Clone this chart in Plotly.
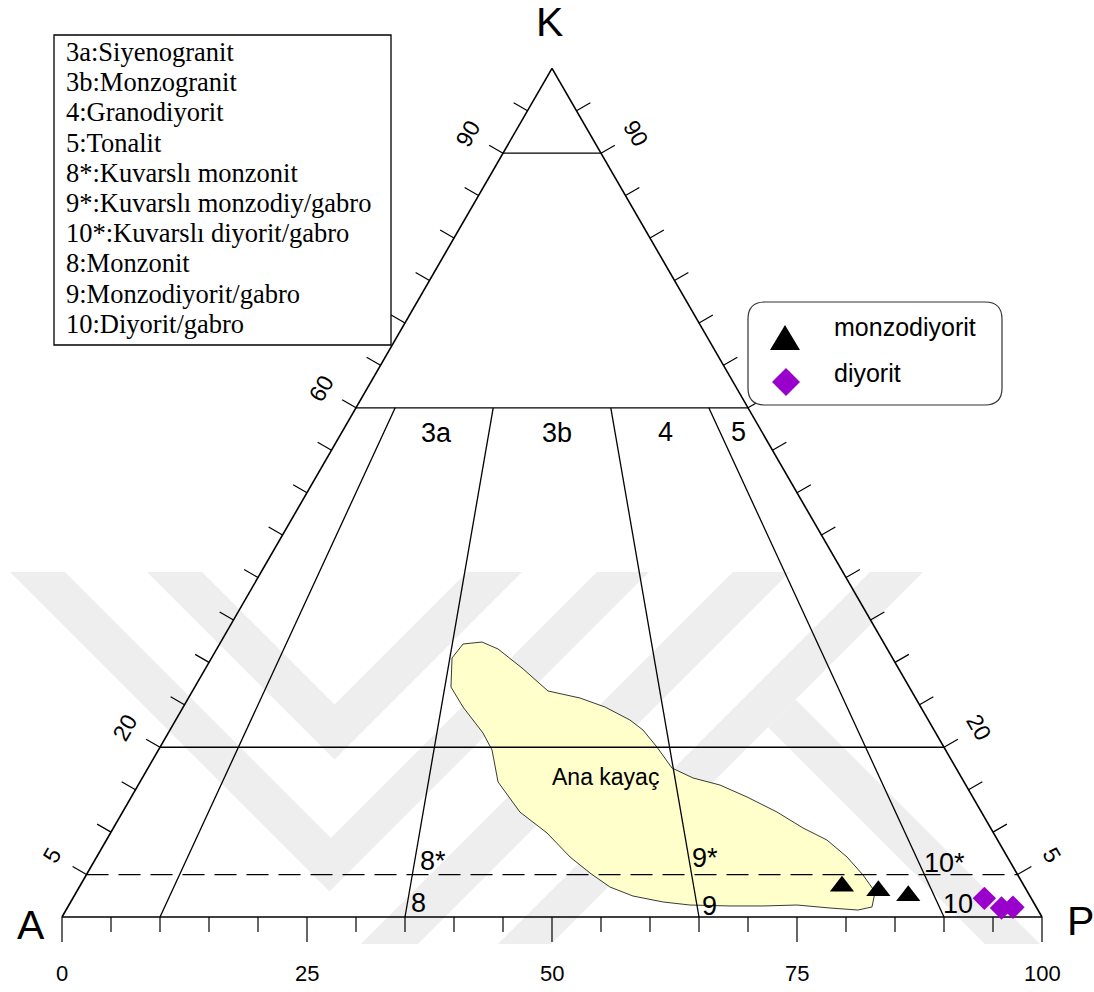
import numpy as np
import plotly.graph_objects as go

# ---------------- data ----------------
# sample compositions (A, P, K in %)
monzo_A = [18.60, 15.16, 12.39]
monzo_P = [77.78, 81.76, 85.10]
monzo_K = [3.62, 3.08, 2.51]

diyo_A = [4.78, 3.60, 2.39]
diyo_P = [93.02, 95.34, 96.46]
diyo_K = [2.20, 1.06, 1.15]

# "Ana kayaç" field outline (P and K in %, A = 100 - P - K)
ana_P = [24.84, 26.66, 28.70, 32.27, 36.28, 39.96, 43.04, 46.35, 48.27, 50.69,
         53.46, 56.20, 59.36, 62.83, 66.77, 70.37, 73.52, 76.57, 79.26, 81.49,
         82.06, 80.81, 77.84, 74.29, 70.88, 67.51, 63.37, 60.45, 57.03, 54.15,
         51.29, 48.31, 44.54, 40.54, 36.54, 34.04, 32.12, 28.55, 26.14, 24.54]
ana_K = [32.17, 32.40, 31.58, 29.34, 26.63, 25.80, 24.74, 23.21, 22.03, 20.03,
         17.56, 16.38, 15.55, 14.14, 12.37, 10.49, 9.07, 7.07, 4.95, 2.95,
         1.18, 0.82, 1.06, 1.41, 1.30, 1.30, 1.41, 1.77, 2.47, 3.53,
         5.18, 7.07, 9.90, 12.37, 15.91, 19.68, 21.68, 24.74, 27.10, 30.52]

# classification grid
k_levels = [90, 60, 20]          # solid K lines
k_dashed = 5                     # dashed K line
ratio_lines = [10, 35, 65, 90]   # 100*P/(A+P)
ratio_top = 60                   # ratio lines end at K = 60

bottom_tick_vals = [0, 25, 50, 75, 100]
bottom_tick_text = ["0", "25", "50", "75", "100"]
left_label_vals = [90, 60, 20, 5]
right_label_vals = [90, 20, 5]

field_names = ["3a", "3b", "4", "5", "8*", "9*", "10*", "8", "9", "10"]
field_pos_px = [(436, 433), (557, 433), (665, 432), (738, 432),
                (433, 861), (705, 858), (944, 863), (418, 903), (709, 906), (958, 904)]

key_lines = ["3a:Siyenogranit", "3b:Monzogranit", "4:Granodiyorit", "5:Tonalit",
             "8*:Kuvarslı monzonit", "9*:Kuvarslı monzodiy/gabro",
             "10*:Kuvarslı diyorit/gabro", "8:Monzonit", "9:Monzodiyorit/gabro",
             "10:Diyorit/gabro"]
series_names = ["monzodiyorit", "diyorit"]

# ---------------- geometry helpers ----------------
S3 = np.sqrt(3) / 2
SC = 9.8           # pixels per unit
OX, OY = 62, 917   # pixel of corner A


def tern(a, p, k):
    a, p, k = np.asarray(a, float), np.asarray(p, float), np.asarray(k, float)
    t = a + p + k
    p, k = 100 * p / t, 100 * k / t
    return p + k / 2, k * S3


def px(x, y):
    return (x - OX) / SC, (OY - y) / SC


def P(x, y):
    X, Y = px(x, y)
    return f"{X:.4f},{Y:.4f}"


def poly_path(pts):
    return "M " + " L ".join(P(x, y) for x, y in pts) + " Z"


shapes = []

# ---- faint background watermark (decorative chevrons) ----
WM = "#EEEEEE"
TOP, BOT = 572, 944


def vshape(l0, l1, r0, r1):
    ti = (r0 - l1) / 2
    to = (r1 - l0) / 2
    return [(l0, TOP), (l1, TOP), (l1 + ti, TOP + ti), (r0, TOP), (r1, TOP), (l0 + to, TOP + to)]


def slash(a0, a1):
    d = BOT - TOP
    return [(a0, TOP), (a1, TOP), (a1 - d, BOT), (a0 - d, BOT)]


for pts in [vshape(10, 65, 597, 649), vshape(147, 202, 467, 522),
            slash(733, 790), slash(870, 923),
            [(768, 727), (795.5, 699.5), (BOT + 96, BOT), (BOT + 41, BOT)]]:
    shapes.append(dict(type="path", path=poly_path(pts), fillcolor=WM,
                       line=dict(width=0), layer="below"))

fig = go.Figure()

# Ana kayaç field
ana_A = [100 - p - k for p, k in zip(ana_P, ana_K)]
ax_, ay_ = tern(ana_A + ana_A[:1], ana_P + ana_P[:1], ana_K + ana_K[:1])
fig.add_trace(go.Scatter(x=ax_, y=ay_, mode="lines", fill="toself",
                         fillcolor="#FFFFCC", line=dict(color="#222", width=0.9),
                         hoverinfo="skip", showlegend=False))


def seg_trace(segs, width, dash=None):
    xs, ys = [], []
    for (x0, y0), (x1, y1) in segs:
        xs += [x0, x1, None]
        ys += [y0, y1, None]
    fig.add_trace(go.Scatter(x=xs, y=ys, mode="lines",
                             line=dict(color="black", width=width, dash=dash),
                             hoverinfo="skip", showlegend=False))


# outline
tri = [tern(100, 0, 0), tern(0, 100, 0), tern(0, 0, 100)]
seg_trace([(tri[0], tri[1]), (tri[1], tri[2]), (tri[2], tri[0])], 1.6)

# horizontal K lines
segs = []
for k in k_levels:
    segs.append((tern(100 - k, 0, k), tern(0, 100 - k, k)))
# ratio lines
for r in ratio_lines:
    segs.append((tern(100 - r, r, 0),
                 tern((100 - ratio_top) * (1 - r / 100), (100 - ratio_top) * r / 100, ratio_top)))
seg_trace(segs, 1.3)
seg_trace([(tern(100 - k_dashed, 0, k_dashed), tern(0, 100 - k_dashed, k_dashed))], 1.3,
          dash="22px,10px")

# ticks
L = 16 / SC
nl = (-S3, 0.5)
nr = (S3, 0.5)
tsegs = []
for k in range(5, 100, 5):
    x0, y0 = tern(100 - k, 0, k)
    tsegs.append(((x0, y0), (x0 + nl[0] * L, y0 + nl[1] * L)))
    x0, y0 = tern(0, 100 - k, k)
    tsegs.append(((x0, y0), (x0 + nr[0] * L, y0 + nr[1] * L)))
for v in range(0, 101, 5):
    x0, y0 = tern(100 - v, v, 0)
    ln = (25 if v % 25 == 0 else 15) / SC
    tsegs.append(((x0, y0), (x0, y0 - ln)))
seg_trace(tsegs, 1.2)

# data
mx, my = tern(monzo_A, monzo_P, monzo_K)
fig.add_trace(go.Scatter(x=mx, y=my, mode="markers", name=series_names[0],
                         marker=dict(symbol="triangle-up", size=21, color="black"),
                         showlegend=False))
dx, dy = tern(diyo_A, diyo_P, diyo_K)
fig.add_trace(go.Scatter(x=dx, y=dy, mode="markers", name=series_names[1],
                         marker=dict(symbol="diamond", size=18, color="#9900CC"),
                         showlegend=False))

ann = []
SANS = "Liberation Sans, Arial, sans-serif"
SERIF = "Liberation Serif, Times New Roman, serif"

# apex labels
for t, (x, y) in zip(["A", "P", "K"], [(31, 925), (1080, 921), (549, 22)]):
    X, Y = px(x, y)
    ann.append(dict(x=X, y=Y, text=t, showarrow=False, font=dict(family=SANS, size=41, color="black")))

# bottom labels
for v, t in zip(bottom_tick_vals, bottom_tick_text):
    X, _ = tern(100 - v, v, 0)
    _, Y = px(0, 973)
    ann.append(dict(x=X, y=Y, text=t, showarrow=False, font=dict(family=SANS, size=22, color="black")))

# side labels
off = 40 / SC
for k in left_label_vals:
    x0, y0 = tern(100 - k, 0, k)
    ann.append(dict(x=x0 + nl[0] * off, y=y0 + nl[1] * off, text=str(k), textangle=-60,
                    showarrow=False, font=dict(family=SANS, size=23, color="black")))
for k in right_label_vals:
    x0, y0 = tern(0, 100 - k, k)
    ann.append(dict(x=x0 + nr[0] * off, y=y0 + nr[1] * off, text=str(k), textangle=60,
                    showarrow=False, font=dict(family=SANS, size=23, color="black")))

# field labels
for t, (x, y) in zip(field_names, field_pos_px):
    X, Y = px(x, y)
    ann.append(dict(x=X, y=Y, text=t, showarrow=False, font=dict(family=SANS, size=27, color="black")))

X, Y = px(605, 777)
ann.append(dict(x=X, y=Y, text="Ana kayaç", showarrow=False, font=dict(family=SANS, size=23, color="black")))

# key box (top-left)
x0, y0 = px(54, 35)
x1, y1 = px(391, 345)
shapes.append(dict(type="rect", x0=x0, y0=y0, x1=x1, y1=y1, line=dict(color="black", width=1.3),
                   fillcolor="white"))
for i, t in enumerate(key_lines):
    X, Y = px(64, 52 + 30.2 * i)
    ann.append(dict(x=X, y=Y, text=t, showarrow=False, xanchor="left",
                    font=dict(family=SERIF, size=26.5, color="black")))

# legend box (right) with rounded corners
lx0, ly0, lx1, ly1, r = 748, 302, 1002, 405, 17
path = (f"M {P(lx0 + r, ly0)} L {P(lx1 - r, ly0)} Q {P(lx1, ly0)} {P(lx1, ly0 + r)} "
        f"L {P(lx1, ly1 - r)} Q {P(lx1, ly1)} {P(lx1 - r, ly1)} "
        f"L {P(lx0 + r, ly1)} Q {P(lx0, ly1)} {P(lx0, ly1 - r)} "
        f"L {P(lx0, ly0 + r)} Q {P(lx0, ly0)} {P(lx0 + r, ly0)} Z")
shapes.append(dict(type="path", path=path, line=dict(color="#333", width=1.2), fillcolor="white"))
# legend symbols
shapes.append(dict(type="path", path=f"M {P(785, 325)} L {P(800, 350)} L {P(770, 350)} Z",
                   line=dict(width=0), fillcolor="black"))
shapes.append(dict(type="path", path=f"M {P(786, 368)} L {P(800, 382)} L {P(786, 396)} L {P(772, 382)} Z",
                   line=dict(width=0), fillcolor="#9900CC"))
for t, yc in zip(series_names, [327, 373]):
    X, Y = px(832, yc)
    ann.append(dict(x=X, y=Y, text=t, showarrow=False, xanchor="left",
                    font=dict(family=SANS, size=25, color="black")))

xr = [px(0, 0)[0], px(1094, 0)[0]]
yr = [px(0, 992)[1], px(0, 0)[1]]
fig.update_layout(
    width=1094, height=992, margin=dict(l=0, r=0, t=0, b=0),
    paper_bgcolor="white", plot_bgcolor="white",
    xaxis=dict(range=xr, visible=False, fixedrange=True),
    yaxis=dict(range=yr, visible=False, fixedrange=True),
    annotations=ann, shapes=shapes, hovermode=False, showlegend=False,
)
fig.write_html("out.html", config={"displayModeBar": False},
               post_script="document.body.style.margin='0';document.body.style.overflow='hidden';")
